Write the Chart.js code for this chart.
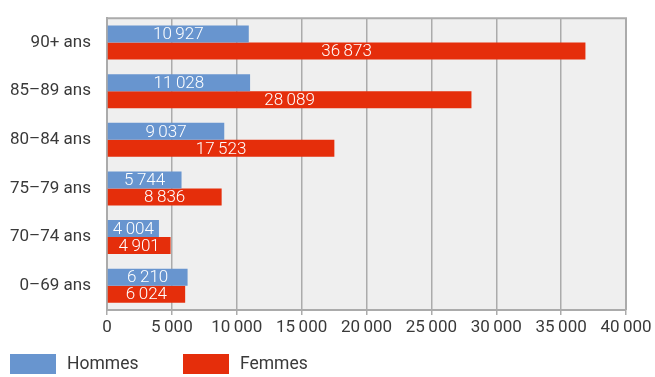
<!DOCTYPE html>
<html><head><meta charset="utf-8">
<script src="https://cdn.jsdelivr.net/npm/chart.js@4/dist/chart.umd.min.js"></script>
<style>html,body{margin:0;padding:0;background:#fff}#wrap{width:655px;height:377px;position:relative}</style>
</head><body><div id="wrap"><canvas id="c" width="655" height="377"></canvas></div>
<script>
const categories = ["90+ ans", "85\u201389 ans", "80\u201384 ans", "75\u201379 ans", "70\u201374 ans", "0\u201369 ans"];
const hommes = [10927, 11028, 9037, 5744, 4004, 6210];
const femmes = [36873, 28089, 17523, 8836, 4901, 6024];
const seriesNames = ["Hommes", "Femmes"];
const seriesColors = ["#6895cf", "#e52e0b"];
const xTicks = [0, 5000, 10000, 15000, 20000, 25000, 30000, 35000, 40000];

const fmt = v => String(Math.round(v)).replace(/\B(?=(\d{3})+(?!\d))/g, "\u2009");

const bgPlugin = {
  id: 'bg',
  beforeDraw(chart) {
    const {ctx, chartArea: a} = chart;
    ctx.save();
    ctx.fillStyle = '#efefef';
    ctx.fillRect(a.left, a.top, a.right - a.left, a.bottom - a.top);
    ctx.restore();
  },
  afterDatasetsDraw(chart) {
    const {ctx, chartArea: a} = chart;
    ctx.save();
    ctx.strokeStyle = '#ababab';
    ctx.lineWidth = 2;
    ctx.beginPath();
    ctx.moveTo(a.left, a.top); ctx.lineTo(a.right, a.top); ctx.lineTo(a.right, a.bottom);
    ctx.stroke();
    ctx.font = '300 17px Roboto';
    ctx.fillStyle = '#ffffff';
    ctx.textAlign = 'center';
    ctx.textBaseline = 'middle';
    chart.data.datasets.forEach((ds, i) => {
      const meta = chart.getDatasetMeta(i);
      meta.data.forEach((bar, j) => {
        const x = (bar.x + bar.base) / 2;
        ctx.fillText(fmt(ds.data[j]), x, bar.y + 1);
      });
    });
    // legend
    const lx = [10, 183];
    ctx.font = '17.5px Roboto';
    ctx.textAlign = 'left';
    seriesNames.forEach((n, i) => {
      ctx.fillStyle = seriesColors[i];
      ctx.fillRect(lx[i], 354, 46, 20);
      ctx.fillStyle = '#3a3a3a';
      ctx.fillText(n, lx[i] + 57, 365);
    });
    ctx.restore();
  }
};

new Chart(document.getElementById('c'), {
  type: 'bar',
  data: {
    labels: categories,
    datasets: [
      {label: seriesNames[0], data: hommes, backgroundColor: seriesColors[0]},
      {label: seriesNames[1], data: femmes, backgroundColor: seriesColors[1]}
    ]
  },
  options: {
    indexAxis: 'y',
    responsive: false,
    animation: false,
    layout: {padding: {left: 0, right: 29, top: 16, bottom: 37}},
    datasets: {bar: {categoryPercentage: 0.7, barPercentage: 1.0}},
    plugins: {
      legend: {display: false},
      tooltip: {enabled: false}
    },
    scales: {
      x: {
        min: 0, max: 40000,
        afterFit(scale) { scale.height = 30; },
        afterBuildTicks(scale) { scale.ticks = xTicks.map(v => ({value: v})); },
        ticks: {color: '#3a3a3a', font: {family: 'Roboto', size: 17}, padding: 3, maxRotation: 0, callback: v => fmt(v)},
        grid: {color: '#ababab', lineWidth: 1.5, tickLength: 5, drawTicks: true},
        border: {color: '#ababab', width: 2}
      },
      y: {
        afterFit(scale) { scale.width = 107; },
        ticks: {color: '#3a3a3a', font: {family: 'Roboto', size: 17}, padding: 8},
        grid: {display: false},
        border: {color: '#ababab', width: 2}
      }
    }
  },
  plugins: [bgPlugin]
});
</script></body></html>
